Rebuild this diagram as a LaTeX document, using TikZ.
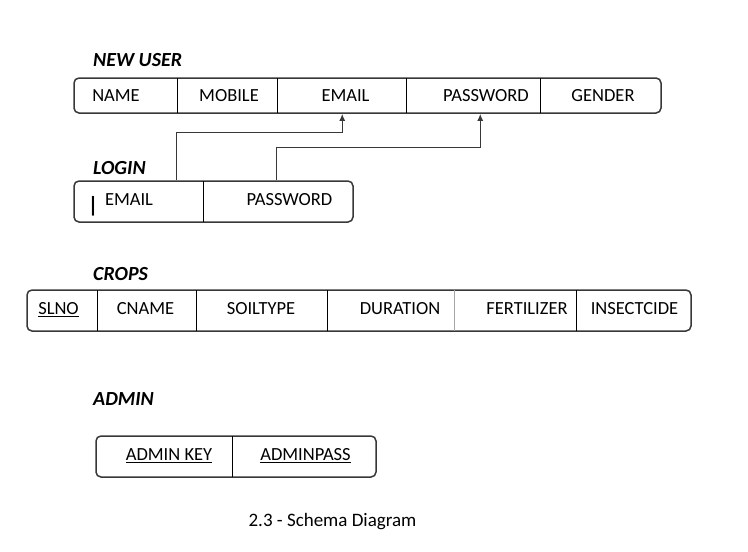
\documentclass[tikz,border=0pt]{standalone}
\usepackage{fontspec}
\setmainfont{Carlito}
\usetikzlibrary{arrows.meta,calc}
\definecolor{bordc}{HTML}{383838}
\begin{document}
\begin{tikzpicture}[x=1pt,y=-1pt,
  tbl/.style={draw=bordc,line width=1.5pt,rounded corners=5pt,inner sep=0pt},
  cell/.style={inner sep=0pt,text height=11.9pt,text depth=0pt,font=\fontsize{18.5}{21}\selectfont},
  ttl/.style={inner sep=0pt,anchor=west,text height=12.9pt,text depth=0pt,font=\fontsize{20}{24}\selectfont\bfseries\itshape},
  div/.style={draw=black,line width=0.9pt},
  lightdiv/.style={draw=black!35,line width=0.9pt},
  arr/.style={draw=bordc,line width=1.4pt,-{Latex[length=7pt,width=6pt]}}]
\useasboundingbox (0,0) rectangle (748,552);

% NEW USER
\node[ttl] (tnu) at (93,60) {NEW USER};
\node[tbl,minimum width=587pt,minimum height=35pt] (nu) at (367.5,95.5) {};
\draw[div] (177,78) -- (177,113);
\draw[div] (277,78) -- (277,113);
\draw[div] (406,78) -- (406,113);
\draw[div] (540,78) -- (540,113);
\node[cell] (nuname) at (116,96) {NAME};
\node[cell] (numobile) at (229,96) {MOBILE};
\node[cell] (nuemail) at (345.5,96) {EMAIL};
\node[cell] (nupass) at (486,96) {PASSWORD};
\node[cell] (nugender) at (603,96) {GENDER};

% LOGIN
\node[ttl] (tlogin) at (93,168) {LOGIN};
\node[tbl,minimum width=279pt,minimum height=41pt] (lg) at (213.5,201.5) {};
\draw[div] (203,181) -- (203,222);
\node[cell,font=\fontsize{22}{24}\selectfont\bfseries,text height=15pt] (lbar) at (93,204.5) {|};
\node[cell] (lemail) at (129,200) {EMAIL};
\node[cell] (lpass) at (289.5,200) {PASSWORD};

% connectors
\draw[arr] ([xshift=103pt]lg.north west) -- ++(0,-48) -| ([xshift=269pt]nu.south west);
\draw[arr] ([xshift=203pt]lg.north west) -- ++(0,-33) -| ([xshift=407pt]nu.south west);

% CROPS
\node[ttl] (tcrops) at (93,274) {CROPS};
\node[tbl,minimum width=664pt,minimum height=41pt] (cr) at (359,310.5) {};
\draw[div] (97,290) -- (97,331);
\draw[div] (196,290) -- (196,331);
\draw[div] (327,290) -- (327,331);
\draw[lightdiv] (454,290) -- (454,331);
\draw[div] (576,290) -- (576,331);
\node[cell] (cslno) at (58.5,309) {\underline{SLNO}};
\node[cell] (ccname) at (145.5,309) {CNAME};
\node[cell] (csoil) at (261,309) {SOILTYPE};
\node[cell] (cdur) at (400,309) {DURATION};
\node[cell] (cfert) at (527,309) {FERTILIZER};
\node[cell] (cins) at (634.5,309) {INSECTCIDE};

% ADMIN
\node[ttl] (tadmin) at (93,399) {ADMIN};
\node[tbl,minimum width=280pt,minimum height=41pt] (ad) at (236,456.5) {};
\draw[div] (232,436) -- (232,477);
\node[cell] (akey) at (169,455) {\underline{ADMIN KEY}};
\node[cell] (apass) at (305.5,455) {\underline{ADMINPASS}};

% caption
\node[cell,font=\fontsize{19}{22}\selectfont,text height=12.2pt] (cap) at (332.5,520) {2.3 - Schema Diagram};
\end{tikzpicture}
\end{document}
